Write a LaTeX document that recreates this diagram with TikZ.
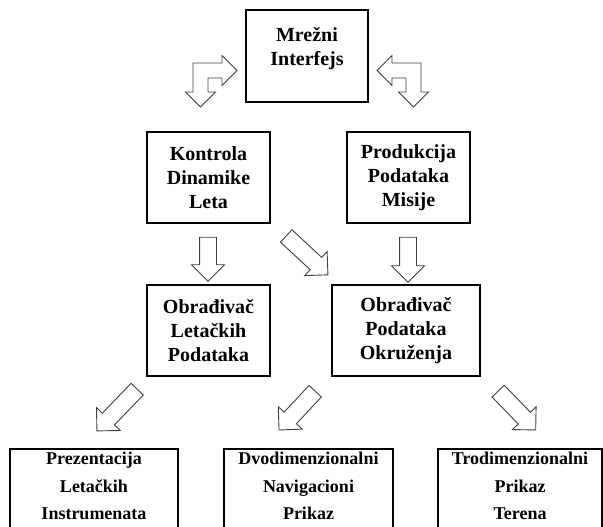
\documentclass[tikz,border=0pt]{standalone}
\usepackage{fontspec}
\setmainfont{Liberation Serif}
\usetikzlibrary{shapes.arrows,positioning}

\begin{document}
\begin{tikzpicture}[
    x=1pt,
    y=-1pt,
    thick
]

\useasboundingbox (0,0) rectangle (603,527);
\clip (0,0) rectangle (603,527);

\tikzstyle{kutija}=[
    draw,
    line width=1.2pt,
    minimum width=123pt,
    minimum height=91pt,
    inner sep=0pt,
    align=center,
    font=\fontsize{20}{24}\selectfont\bfseries
]
\tikzstyle{donja}=[
    kutija,
    minimum height=82pt,
    font=\fontsize{18}{27.5}\selectfont\bfseries
]
\tikzstyle{pil}=[
    draw=black!75,
    line width=0.9pt,
    fill=white
]
\tikzstyle{blok}=[
    pil,
    single arrow,
    single arrow head extend=8pt,
    inner sep=8pt
]


\node[kutija, minimum width=122pt, minimum height=92pt, text depth=19pt] (mreza) at (307,56) {Mre\v{z}ni\\Interfejs};
\node[kutija] (kontrola) at (208.5,177.5) {Kontrola\\Dinamike\\Leta};
\node[kutija] (produkcija) at (408.5,177.5) {Produkcija\\Podataka\\Misije};
\node[kutija] (letacki) at (208.5,330.5) {Obra\dj iva\v{c}\\Leta\v{c}kih\\Podataka};
\node[kutija, minimum width=148pt] (okruzenje) at (406,330.5) {Obra\dj iva\v{c}\\Podataka\\Okru\v{z}enja};


\node[donja, minimum width=168pt, text depth=8pt] (prezentacija) at (94,490) {Prezentacija\\Leta\v{c}kih\\Instrumenata};
\node[donja, minimum width=169pt, text depth=8pt] (dvodim) at (308.5,490) {Dvodimenzionalni\\Navigacioni\\Prikaz};
\node[donja, minimum width=164pt, text depth=8pt] (trodim) at (520,490) {Trodimenzionalni\\Prikaz\\Terena};


% savijene strelice oko mreze
\draw[pil] (193,92) -- (185.5,92) -- (200.5,107) -- (215.5,92) -- (208,92) -- (208,78)
    -- (222,78) -- (222,85.5) -- (237,70.5) -- (222,55.5) -- (222,63) -- (193,63) -- cycle;
\draw[pil] (421,92) -- (428.5,92) -- (413.5,107) -- (398.5,92) -- (406,92) -- (406,78)
    -- (392,78) -- (392,85.5) -- (377,70.5) -- (392,55.5) -- (392,63) -- (421,63) -- cycle;


\node[blok, rotate=-90, minimum height=44pt] (s1) at (208,255) {};
\node[blok, rotate=-90, minimum height=45pt] (s2) at (408,255.5) {};
\node[blok, rotate=-43, minimum height=57pt] (s3) at (304,252.5) {};
\node[blok, rotate=-134, minimum height=58pt] (s4) at (120,407) {};
\node[blok, rotate=-133, minimum height=53pt] (s5) at (300,407.5) {};
\node[blok, rotate=-46, minimum height=54pt] (s6) at (514,407.5) {};

\end{tikzpicture}
\end{document}
